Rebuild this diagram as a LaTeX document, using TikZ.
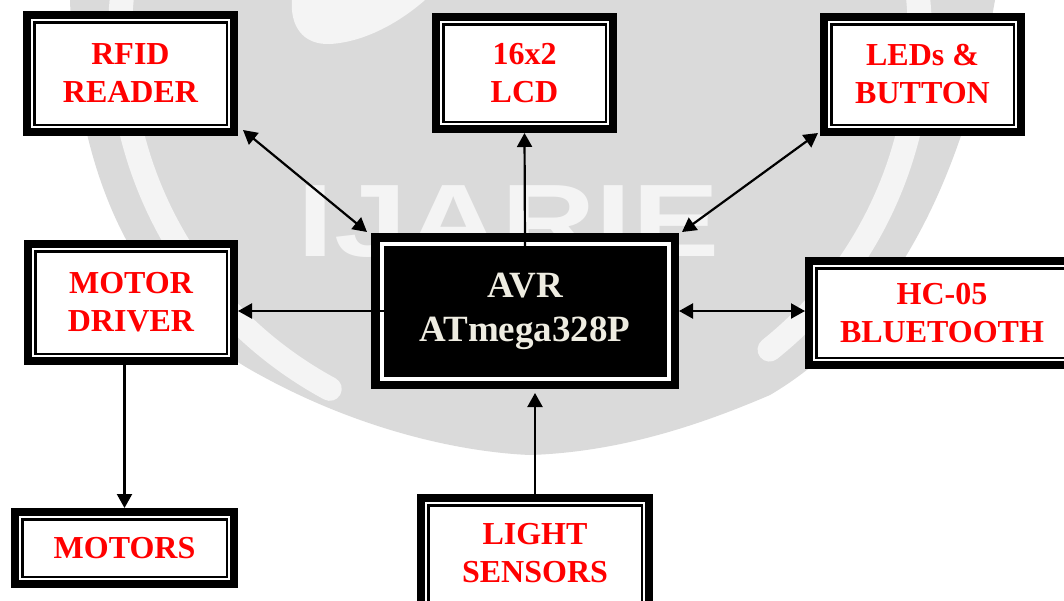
\documentclass[tikz,border=0pt]{standalone}
\usepackage{fontspec}
\setmainfont{Liberation Serif}
\newfontfamily\wmfont{Liberation Sans}
\usetikzlibrary{arrows.meta}
\definecolor{wmgray}{RGB}{218,218,218}
\definecolor{wmring}{RGB}{244,244,244}
\definecolor{cream}{RGB}{238,236,225}
\tikzset{
  rbox/.style={draw=black, fill=white, line width=8pt, inner sep=0pt, align=center,
    text=red, font=\fontsize{32}{38}\selectfont\bfseries,
    path picture={\draw[black, line width=2.5pt]
      ([shift={(7.25pt,-7.25pt)}]path picture bounding box.north west) rectangle
      ([shift={(-7.25pt,7.25pt)}]path picture bounding box.south east);}},
  avrbox/.style={draw=black, fill=black, line width=8.5pt, inner sep=0pt, align=center,
    text=cream, font=\fontsize{37}{44}\selectfont\bfseries,
    path picture={\draw[white, line width=4pt]
      ([shift={(6.25pt,-6.25pt)}]path picture bounding box.north west) rectangle
      ([shift={(-6.25pt,6.25pt)}]path picture bounding box.south east);}},
  conn/.style={line width=2.2pt, black},
  tip/.style={-{Triangle[length=14pt,width=15pt]}},
  tips/.style={{Triangle[length=14pt,width=15pt]}-{Triangle[length=14pt,width=15pt]}},
}
\begin{document}
\begin{tikzpicture}[x=1pt,y=-1pt]
\useasboundingbox (0,0) rectangle (1064,600);
\clip (0,0) rectangle (1064,600);
\fill[white] (0,0) rectangle (1064,600);
% watermark
\begin{scope}
\path[fill=wmgray] (70,0) .. controls (75,150) and (120,300) .. (260,375)
  .. controls (360,430) and (460,452) .. (530,455)
  .. controls (620,452) and (700,425) .. (770,395)
  .. controls (880,330) and (960,200) .. (995,0) -- cycle;
\clip (70,0) .. controls (75,150) and (120,300) .. (260,375)
  .. controls (360,430) and (460,452) .. (530,455)
  .. controls (620,452) and (700,425) .. (770,395)
  .. controls (880,330) and (960,200) .. (995,0) -- cycle;
\draw[wmring, line width=24pt, line cap=round] (520,37) ++ (118.4:400)
  arc[start angle=118.4, end angle=411.4, radius=400];
\fill[wmring] (292,0) .. controls (290,25) and (302,45) .. (330,44)
  .. controls (365,42) and (400,22) .. (425,0) -- cycle;
\node[wmring, anchor=base, inner sep=0pt, font=\wmfont\bfseries\fontsize{103}{103}\selectfont]
  (wm) at (508.5,256) {\scalebox{1.27}[1]{IJARIE}};
\end{scope}
% boxes
\node[rbox, minimum width=207pt, minimum height=117pt] (rfid) at (130.5,73.5) {RFID\\READER};
\node[rbox, minimum width=177pt, minimum height=112pt] (lcd) at (524.5,73) {16x2\\LCD};
\node[rbox, minimum width=197pt, minimum height=115pt] (leds) at (922.5,74.5) {LEDs \&\\BUTTON};
\node[rbox, minimum width=206pt, minimum height=117pt] (mdriver) at (131,302.5) {MOTOR\\DRIVER};
\node[rbox, minimum width=266pt, minimum height=104pt] (hc) at (942,313) {HC-05\\BLUETOOTH};
\node[rbox, minimum width=219pt, minimum height=72pt] (motors) at (124.5,548) {MOTORS};
\node[rbox, minimum width=228pt, minimum height=111pt] (light) at (535,553.5) {LIGHT\\SENSORS};
\node[avrbox, minimum width=299.5pt, minimum height=147.5pt] (avr) at (525,311) {AVR\\ATmega328P};
% connectors
\draw[conn, tips] ([xshift=5pt,yshift=6pt]rfid.south east) -- ([xshift=-4pt,yshift=1pt]avr.north west);
\draw[conn, tip] ([yshift=-14pt]avr.north) -- (lcd.south);
\draw[conn, tips] ([xshift=-2pt,yshift=3pt]leds.south west) -- ([xshift=3pt,yshift=1pt]avr.north east);
\draw[conn, tip] ([xshift=13pt]avr.west) -- (avr.west -| mdriver.east);
\draw[conn, tips] (avr.east) -- (avr.east -| hc.west);
\draw[conn, tip] (motors.north |- mdriver.south) -- (motors.north);
\draw[conn, tip] (light.north) -- ([yshift=-4pt]light.north |- avr.south);
\end{tikzpicture}
\end{document}
